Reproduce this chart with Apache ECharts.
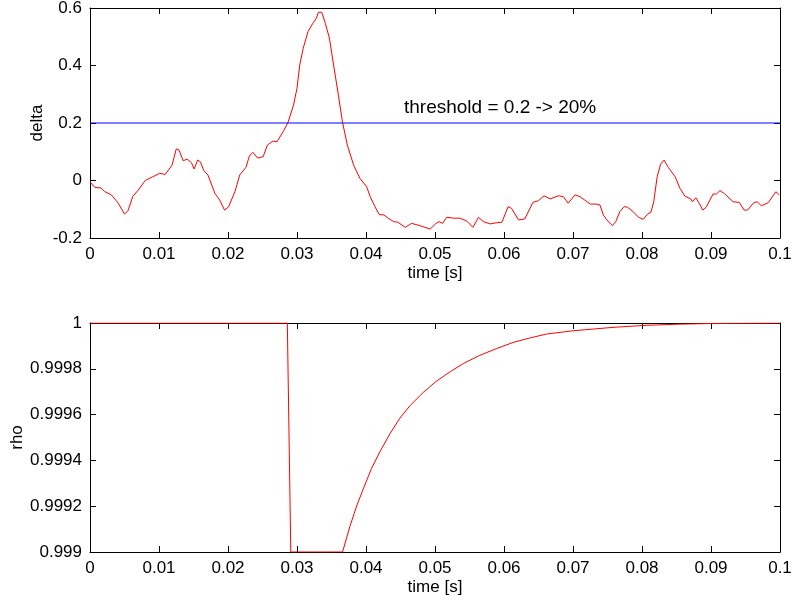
<!DOCTYPE html>
<html>
<head>
<meta charset="utf-8">
<script src="https://cdn.jsdelivr.net/npm/echarts@6/dist/echarts.min.js"></script>
<style>
  html, body { margin: 0; padding: 0; background: #fff; }
  #main { width: 793px; height: 604px; }
</style>
</head>
<body>
<div id="main"></div>
<script>
  // delta trace (time in s)
  const deltaTime = [
    0, 0.0001, 0.0007, 0.0016, 0.0021, 0.0031, 0.0041, 0.0050, 0.0055, 0.0062, 0.0070,
    0.0080, 0.0091, 0.0101, 0.0109, 0.0119, 0.0125, 0.0129, 0.0135, 0.0141, 0.0147,
    0.0151, 0.0156, 0.0160, 0.0165, 0.0171, 0.0181, 0.0188, 0.0195, 0.0201, 0.0210,
    0.0217, 0.0226, 0.0231, 0.0236, 0.0243, 0.0251, 0.0257, 0.0265, 0.0271, 0.0280,
    0.0287, 0.0295, 0.0300, 0.0304, 0.0309, 0.0316, 0.0323, 0.0328, 0.0331, 0.0336,
    0.0341, 0.0347, 0.0353, 0.0360, 0.0366, 0.0373, 0.0382, 0.0391, 0.0401, 0.0406,
    0.0413, 0.0419, 0.0426, 0.0432, 0.0440, 0.0446, 0.0457, 0.0466, 0.0478, 0.0493,
    0.0501, 0.0506, 0.0511, 0.0517, 0.0527, 0.0536, 0.0546, 0.0555, 0.0563, 0.0570,
    0.0580, 0.0589, 0.0597, 0.0606, 0.0611, 0.0621, 0.0630, 0.0642, 0.0650, 0.0658,
    0.0667, 0.0679, 0.0686, 0.0693, 0.0703, 0.0710, 0.0717, 0.0725, 0.0734, 0.0739,
    0.0744, 0.0749, 0.0757, 0.0762, 0.0768, 0.0774, 0.0779, 0.0787, 0.0795, 0.0802,
    0.0808, 0.0813, 0.0817, 0.0822, 0.0827, 0.0832, 0.0838, 0.0848, 0.0855, 0.0862,
    0.0871, 0.0873, 0.0878, 0.0883, 0.0888, 0.0893, 0.0903, 0.0908, 0.0913, 0.0920,
    0.0932, 0.0941, 0.0948, 0.0953, 0.0962, 0.0967, 0.0973, 0.0983, 0.0994, 0.0999
  ];
  const deltaValues = [
    -0.005, 0, -0.024, -0.026, -0.038, -0.05, -0.079, -0.117, -0.105, -0.056, -0.033,
    0, 0.013, 0.025, 0.021, 0.054, 0.11, 0.106, 0.069, 0.074, 0.062,
    0.04, 0.071, 0.065, 0.034, 0.019, -0.045, -0.068, -0.103, -0.091, -0.039,
    0.019, 0.046, 0.085, 0.098, 0.078, 0.083, 0.123, 0.137, 0.135, 0.17,
    0.202, 0.263, 0.321, 0.402, 0.46, 0.518, 0.547, 0.564, 0.585, 0.585,
    0.547, 0.495, 0.402, 0.297, 0.202, 0.123, 0.054, 0.008, -0.022, -0.056,
    -0.091, -0.118, -0.12, -0.131, -0.143, -0.145, -0.163, -0.149, -0.157, -0.169,
    -0.15, -0.143, -0.149, -0.128, -0.131, -0.131, -0.141, -0.163, -0.128, -0.143,
    -0.151, -0.147, -0.145, -0.091, -0.097, -0.137, -0.134, -0.076, -0.07, -0.053,
    -0.064, -0.053, -0.056, -0.079, -0.05, -0.056, -0.068, -0.082, -0.082, -0.085,
    -0.12, -0.137, -0.157, -0.143, -0.108, -0.091, -0.093, -0.108, -0.128, -0.135,
    -0.117, -0.11, -0.074, 0.013, 0.057, 0.071, 0.046, 0.013, -0.027, -0.054,
    -0.065, -0.074, -0.06, -0.079, -0.103, -0.093, -0.047, -0.047, -0.035, -0.047,
    -0.074, -0.076, -0.103, -0.103, -0.077, -0.074, -0.088, -0.077, -0.039, -0.05
  ];

  const thresholdTime = [0, 0.1];
  const thresholdValues = [0.2, 0.2];
  const thresholdText = 'threshold = 0.2 -> 20%';

  // rho trace
  const rhoTime = [
    0, 0.0286, 0.0291, 0.0366, 0.0377, 0.0387, 0.0396, 0.0408, 0.0420, 0.0435,
    0.0449, 0.0464, 0.0483, 0.0502, 0.0522, 0.0541, 0.0565, 0.0589, 0.0613, 0.0638,
    0.0662, 0.0700, 0.0758, 0.0807, 0.0855, 0.0903, 0.0950, 0.1
  ];
  const rhoValues = [
    1, 1, 0.999, 0.999, 0.999115, 0.999205, 0.999275, 0.999365, 0.999437, 0.999518,
    0.999584, 0.999640, 0.999697, 0.999746, 0.999787, 0.999823, 0.999859, 0.999888, 0.999915, 0.999935,
    0.999952, 0.999966, 0.999981, 0.999990, 0.999995, 0.999998, 0.999999, 1
  ];

  const timeTicks = [0, 0.01, 0.02, 0.03, 0.04, 0.05, 0.06, 0.07, 0.08, 0.09, 0.1];

  const font = 'Liberation Sans, Arial, Helvetica, sans-serif';
  const fs = 17;

  const zip = (xs, ys) => xs.map((x, i) => [x, ys[i]]);

  function xAx(grid, pos, showLabel) {
    return {
      type: 'value', gridIndex: grid, position: pos,
      min: timeTicks[0], max: timeTicks[timeTicks.length - 1], interval: 0.01,
      name: showLabel ? 'time [s]' : '', nameLocation: 'middle', nameGap: 27,
      nameMoveOverlap: false,
      nameTextStyle: { color: '#000', fontFamily: font, fontSize: fs },
      axisLine: { show: true, onZero: false, lineStyle: { color: '#000', width: 1 } },
      axisTick: { show: true, inside: true, length: 6, lineStyle: { color: '#000' } },
      axisLabel: {
        show: showLabel, color: '#000', fontFamily: font, fontSize: fs, margin: 8,
        formatter: v => String(+v.toFixed(2))
      },
      splitLine: { show: false }
    };
  }

  function yAx(grid, pos, min, max, interval, name, gap, digits, showLabel) {
    return {
      type: 'value', gridIndex: grid, position: pos,
      min: min, max: max, interval: interval,
      name: showLabel ? name : '', nameLocation: 'middle', nameGap: gap,
      nameRotate: 90, nameMoveOverlap: false,
      nameTextStyle: { color: '#000', fontFamily: font, fontSize: fs },
      axisLine: { show: true, onZero: false, lineStyle: { color: '#000', width: 1 } },
      axisTick: { show: true, inside: true, length: 6, lineStyle: { color: '#000' } },
      axisLabel: {
        show: showLabel, color: '#000', fontFamily: font, fontSize: fs, margin: 8,
        formatter: v => String(+v.toFixed(digits))
      },
      splitLine: { show: false }
    };
  }

  const chart = echarts.init(document.getElementById('main'));

  chart.setOption({
    animation: false,
    backgroundColor: '#fff',
    grid: [
      { left: 90, right: 13, top: 8, height: 230, containLabel: false, outerBoundsMode: 'none' },
      { left: 90, right: 13, top: 323, height: 229, containLabel: false, outerBoundsMode: 'none' }
    ],
    xAxis: [
      xAx(0, 'bottom', true),
      xAx(0, 'top', false),
      xAx(1, 'bottom', true),
      xAx(1, 'top', false)
    ],
    yAxis: [
      yAx(0, 'left', -0.2, 0.6, 0.2, 'delta', 44, 1, true),
      yAx(0, 'right', -0.2, 0.6, 0.2, '', 0, 1, false),
      yAx(1, 'left', 0.999, 1, 0.0002, 'rho', 64, 4, true),
      yAx(1, 'right', 0.999, 1, 0.0002, '', 0, 4, false)
    ],
    series: [
      {
        type: 'line', xAxisIndex: 0, yAxisIndex: 0,
        data: zip(deltaTime, deltaValues),
        showSymbol: false, lineStyle: { color: '#ff0000', width: 1 }
      },
      {
        type: 'line', xAxisIndex: 0, yAxisIndex: 0,
        data: zip(thresholdTime, thresholdValues),
        showSymbol: false, lineStyle: { color: '#0000ff', width: 1 }
      },
      {
        type: 'line', xAxisIndex: 2, yAxisIndex: 2,
        data: zip(rhoTime, rhoValues),
        showSymbol: false, lineStyle: { color: '#ff0000', width: 1 }
      }
    ],
    graphic: [
      {
        type: 'text', x: 404, y: 108,
        style: {
          text: thresholdText, fill: '#000', fontFamily: font, fontSize: 19,
          align: 'left', verticalAlign: 'middle'
        }
      }
    ]
  });
</script>
</body>
</html>
